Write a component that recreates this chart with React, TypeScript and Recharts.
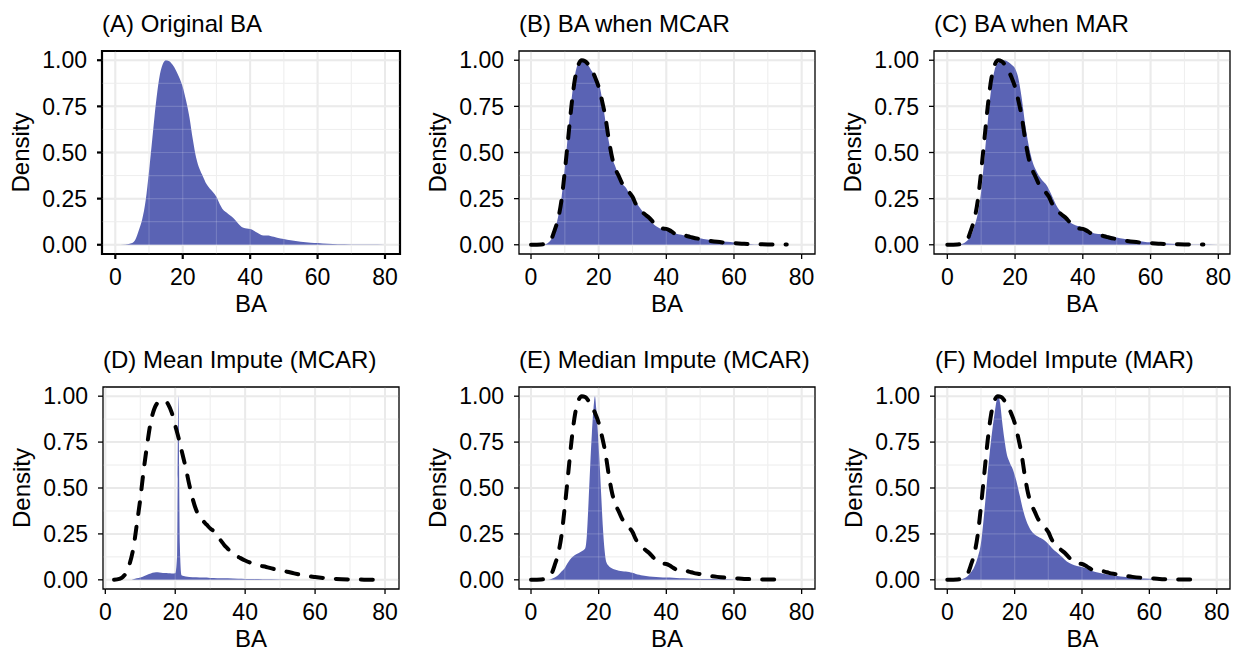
import {
  ComposedChart,
  Area,
  Line,
  XAxis,
  YAxis,
  CartesianGrid,
  ReferenceArea,
  ReferenceLine,
} from "recharts";

const FONT = "'Liberation Sans', Arial, Helvetica, sans-serif";
const FILL = "#5A63B4";

const xTicks = [0, 20, 40, 60, 80];
const xMinor = [10, 30, 50, 70];
const yTicks = [0, 0.25, 0.5, 0.75, 1];
const yMinor = [0.125, 0.375, 0.625, 0.875];

// (A) original BA density (also the dashed reference in B, C, E, F)
const originalX = [0, 3, 5, 6, 7, 8, 9, 10, 11, 12, 13, 14, 15, 16, 17, 18, 19, 20, 21, 22, 23, 24, 25, 26, 27, 28, 29, 30, 31, 32, 33, 34, 35, 36, 37, 38, 39, 40, 41, 42, 43, 44, 45, 46, 47, 48, 50, 52, 55, 58, 60, 63, 66, 70, 75.6, 80];
const originalY = [0, 0.002, 0.01, 0.03, 0.08, 0.14, 0.24, 0.4, 0.58, 0.76, 0.9, 0.975, 1.0, 0.995, 0.975, 0.945, 0.905, 0.855, 0.78, 0.69, 0.57, 0.47, 0.41, 0.37, 0.33, 0.305, 0.285, 0.26, 0.22, 0.19, 0.175, 0.16, 0.145, 0.125, 0.105, 0.092, 0.088, 0.086, 0.078, 0.066, 0.055, 0.05, 0.05, 0.048, 0.043, 0.038, 0.031, 0.024, 0.016, 0.011, 0.009, 0.005, 0.003, 0.002, 0.001, 0];

// (B) BA when MCAR
const mcarX = [0, 4, 5, 6, 7, 8, 9, 10, 11, 12, 13, 14, 15, 16, 17, 18, 19, 20, 21, 22, 23, 24, 25, 26, 27, 28, 29, 30, 31, 32, 33, 34, 35, 36, 37, 38, 39, 40, 41, 42, 43, 44, 45, 46, 48, 50, 52, 55, 58, 60, 62, 64, 66, 68, 70];
const mcarY = [0, 0.003, 0.01, 0.03, 0.08, 0.15, 0.25, 0.42, 0.61, 0.79, 0.92, 0.985, 1.0, 0.99, 0.97, 0.94, 0.915, 0.88, 0.79, 0.67, 0.56, 0.47, 0.42, 0.37, 0.33, 0.31, 0.28, 0.255, 0.235, 0.205, 0.18, 0.155, 0.135, 0.115, 0.1, 0.09, 0.086, 0.085, 0.078, 0.068, 0.06, 0.055, 0.052, 0.048, 0.04, 0.035, 0.028, 0.02, 0.016, 0.012, 0.007, 0.004, 0.002, 0.001, 0];

// (C) BA when MAR
const marX = [0, 4, 5, 6, 7, 8, 9, 10, 11, 12, 13, 14, 15, 16, 17, 18, 19, 20, 21, 22, 23, 24, 25, 26, 27, 28, 29, 30, 31, 32, 33, 34, 35, 36, 37, 38, 39, 40, 41, 42, 43, 44, 45, 46, 47, 48, 50, 52, 55, 58, 60, 63, 66, 70, 75, 80];
const marY = [0, 0.003, 0.01, 0.025, 0.05, 0.1, 0.17, 0.29, 0.48, 0.68, 0.85, 0.95, 0.985, 0.998, 1.0, 0.99, 0.975, 0.955, 0.9, 0.79, 0.65, 0.54, 0.46, 0.41, 0.375, 0.35, 0.33, 0.3, 0.26, 0.22, 0.19, 0.165, 0.14, 0.125, 0.112, 0.105, 0.1, 0.093, 0.085, 0.074, 0.064, 0.06, 0.058, 0.056, 0.053, 0.048, 0.04, 0.033, 0.024, 0.017, 0.013, 0.008, 0.005, 0.003, 0.001, 0];

// (D) mean imputation under MCAR
const meanX = [0, 7, 7.5, 8, 9, 10, 11, 12, 13, 14, 15, 16, 17, 18, 19, 20, 20.5, 20.7, 20.85, 20.95, 21.1, 21.3, 21.8, 23, 25, 27, 29, 30, 32, 35, 38, 40, 42, 45, 50, 55, 60, 70, 80];
const meanY = [0, 0, 0.001, 0.003, 0.008, 0.013, 0.02, 0.028, 0.035, 0.04, 0.041, 0.039, 0.037, 0.036, 0.035, 0.036, 0.12, 0.55, 0.96, 1.0, 0.62, 0.2, 0.025, 0.018, 0.014, 0.013, 0.012, 0.01, 0.009, 0.008, 0.006, 0.005, 0.004, 0.003, 0.002, 0.001, 0.0005, 0, 0];

// dashed reference as drawn in (D)
const refDX = [2.5, 4, 5, 6, 7, 8, 9, 10, 11, 12, 13, 14, 15, 16, 17, 18, 19, 20, 21, 22, 23, 24, 25, 26, 27, 28, 29, 30, 31, 32, 33, 34, 35, 36, 37, 38, 40, 42, 44, 46, 48, 50, 52, 54, 56, 58, 60, 63, 66, 70, 74, 77.5];
const refDY = [0, 0.005, 0.015, 0.04, 0.09, 0.17, 0.3, 0.44, 0.6, 0.74, 0.86, 0.93, 0.965, 0.975, 0.975, 0.955, 0.91, 0.84, 0.77, 0.69, 0.61, 0.52, 0.44, 0.38, 0.345, 0.32, 0.3, 0.28, 0.265, 0.24, 0.215, 0.19, 0.17, 0.15, 0.135, 0.125, 0.105, 0.09, 0.078, 0.07, 0.06, 0.052, 0.044, 0.035, 0.027, 0.02, 0.015, 0.009, 0.005, 0.002, 0.001, 0];

// (E) median imputation under MCAR
const medianX = [0, 5, 6, 7, 8, 9, 10, 11, 12, 13, 14, 15, 16, 16.5, 17, 17.5, 18, 18.5, 18.9, 19.3, 19.7, 20.2, 20.7, 21.2, 21.7, 22.2, 23, 24, 25, 26, 27, 28, 29, 30, 31, 32, 33, 35, 37, 39, 41, 43, 45, 48, 52, 56, 60, 63, 70, 80];
const medianY = [0, 0.001, 0.004, 0.012, 0.025, 0.045, 0.065, 0.095, 0.12, 0.135, 0.145, 0.155, 0.17, 0.24, 0.42, 0.62, 0.8, 0.94, 1.0, 0.93, 0.82, 0.66, 0.48, 0.3, 0.17, 0.1, 0.075, 0.062, 0.055, 0.05, 0.047, 0.045, 0.043, 0.038, 0.032, 0.027, 0.023, 0.018, 0.015, 0.013, 0.012, 0.01, 0.008, 0.006, 0.004, 0.003, 0.002, 0.001, 0, 0];

// (F) model imputation under MAR
const modelX = [0, 4, 5, 6, 7, 8, 9, 10, 11, 12, 13, 14, 14.7, 15.2, 15.7, 16.3, 17, 17.6, 18.5, 19.5, 20.5, 21.5, 22.5, 23.5, 24.5, 25.5, 27, 28.5, 29.5, 30.5, 31.5, 32.5, 34, 35.5, 37, 38.5, 40, 41, 42, 44, 46, 48, 50, 53, 56, 60, 64, 68, 72, 80];
const modelY = [0, 0.002, 0.008, 0.02, 0.04, 0.07, 0.12, 0.2, 0.37, 0.58, 0.76, 0.9, 0.98, 1.0, 0.96, 0.86, 0.76, 0.69, 0.64, 0.6, 0.54, 0.46, 0.38, 0.32, 0.28, 0.255, 0.235, 0.22, 0.205, 0.185, 0.165, 0.15, 0.125, 0.1, 0.085, 0.075, 0.07, 0.065, 0.055, 0.042, 0.035, 0.028, 0.022, 0.015, 0.01, 0.006, 0.003, 0.001, 0, 0];

type Pt = { x: number; y: number };
const toPoints = (xs: number[], ys: number[]): Pt[] => xs.map((x, i) => ({ x, y: ys[i] }));

const original = toPoints(originalX, originalY);
const originalLine = original.filter((d) => d.x <= 76);

type PanelDef = {
  title: string;
  fill: Pt[];
  line: Pt[] | null;
  left: number;
  top: number;
  w: number;
  h: number;
  xMin: number;
  xMax: number;
  edge: number;
};

const panels: PanelDef[] = [
  { title: "(A) Original BA", fill: original, line: null, left: 102, top: 51, w: 298, h: 203, xMin: -3.95, xMax: 84.45, edge: 2.2 },
  { title: "(B) BA when MCAR", fill: toPoints(mcarX, mcarY), line: originalLine, left: 519, top: 51, w: 296, h: 203, xMin: -3.55, xMax: 83.95, edge: 1.3 },
  { title: "(C) BA when MAR", fill: toPoints(marX, marY), line: originalLine, left: 934, top: 51, w: 296, h: 203, xMin: -3.93, xMax: 83.45, edge: 1.3 },
  { title: "(D) Mean Impute (MCAR)", fill: toPoints(meanX, meanY), line: toPoints(refDX, refDY), left: 103, top: 387, w: 296, h: 202, xMin: -0.66, xMax: 84.0, edge: 1.3 },
  { title: "(E) Median Impute (MCAR)", fill: toPoints(medianX, medianY), line: originalLine, left: 519, top: 387, w: 296, h: 202, xMin: -3.55, xMax: 83.95, edge: 1.3 },
  { title: "(F) Model Impute (MAR)", fill: toPoints(modelX, modelY), line: originalLine, left: 935, top: 387, w: 295, h: 202, xMin: -3.65, xMax: 83.95, edge: 1.3 },
];

const tickStyle = { fill: "#000", fontSize: 23, fontFamily: FONT };

function Panel({ p }: { p: PanelDef }) {
  return (
    <div style={{ position: "absolute", left: p.left - 80, top: p.top - 10 }}>
      <ComposedChart
        width={p.w + 85}
        height={p.h + 50}
        margin={{ top: 10, right: 5, bottom: 0, left: 0 }}
      >
        <CartesianGrid stroke="#EBEBEB" strokeWidth={1} verticalValues={xMinor} horizontalValues={yMinor} />
        <CartesianGrid stroke="#E8E8E8" strokeWidth={2} verticalValues={xTicks} horizontalValues={yTicks} />
        <XAxis
          type="number"
          dataKey="x"
          domain={[p.xMin, p.xMax]}
          allowDataOverflow
          ticks={xTicks}
          interval={0}
          height={40}
          axisLine={false}
          tickSize={5}
          tickMargin={10}
          tickLine={{ stroke: "#000", strokeWidth: p.edge }}
          tick={tickStyle}
        />
        <YAxis
          type="number"
          domain={[-0.05, 1.05]}
          allowDataOverflow
          ticks={yTicks}
          interval={0}
          width={80}
          axisLine={false}
          tickSize={5}
          tickMargin={10}
          tickLine={{ stroke: "#000", strokeWidth: p.edge }}
          tick={tickStyle}
          tickFormatter={(v: number) => v.toFixed(2)}
        />
        <Area
          data={p.fill}
          dataKey="y"
          type="monotone"
          fill={FILL}
          fillOpacity={1}
          stroke="none"
          baseValue={0}
          isAnimationActive={false}
        />
        {[...xTicks, ...xMinor].map((v) => (
          <ReferenceLine key={"vx" + v} x={v} stroke="#fff" strokeOpacity={0.16} strokeWidth={1.2} />
        ))}
        {[...yTicks, ...yMinor].map((v) => (
          <ReferenceLine key={"hy" + v} y={v} stroke="#fff" strokeOpacity={0.16} strokeWidth={1.2} />
        ))}
        {p.line && (
          <Line
            data={p.line}
            dataKey="y"
            type="monotone"
            stroke="#000"
            strokeWidth={4}
            strokeDasharray="12 13"
            strokeLinecap="round"
            dot={false}
            isAnimationActive={false}
          />
        )}
        <ReferenceArea
          x1={p.xMin}
          x2={p.xMax}
          y1={-0.05}
          y2={1.05}
          fill="none"
          fillOpacity={0}
          stroke="#000"
          strokeWidth={p.edge}
          ifOverflow="visible"
        />
      </ComposedChart>
    </div>
  );
}

export default function App() {
  return (
    <div
      style={{
        position: "absolute",
        left: 0,
        top: 0,
        width: 1234,
        height: 652,
        background: "#fff",
        overflow: "hidden",
      }}
    >
      {panels.map((p) => (
        <Panel key={p.title} p={p} />
      ))}
      <svg
        width={1234}
        height={652}
        style={{ position: "absolute", left: 0, top: 0, pointerEvents: "none" }}
        fontFamily={FONT}
        fontSize={24}
        fill="#000"
      >
        {panels.map((p) => (
          <g key={p.title}>
            <text x={p.left} y={p.top - 19}>
              {p.title}
            </text>
            <text x={p.left + p.w / 2} y={p.top + p.h + 58} textAnchor="middle">
              BA
            </text>
            <text
              transform={`translate(${p.left - 73.5}, ${p.top + p.h / 2}) rotate(-90)`}
              textAnchor="middle"
            >
              Density
            </text>
          </g>
        ))}
      </svg>
    </div>
  );
}
